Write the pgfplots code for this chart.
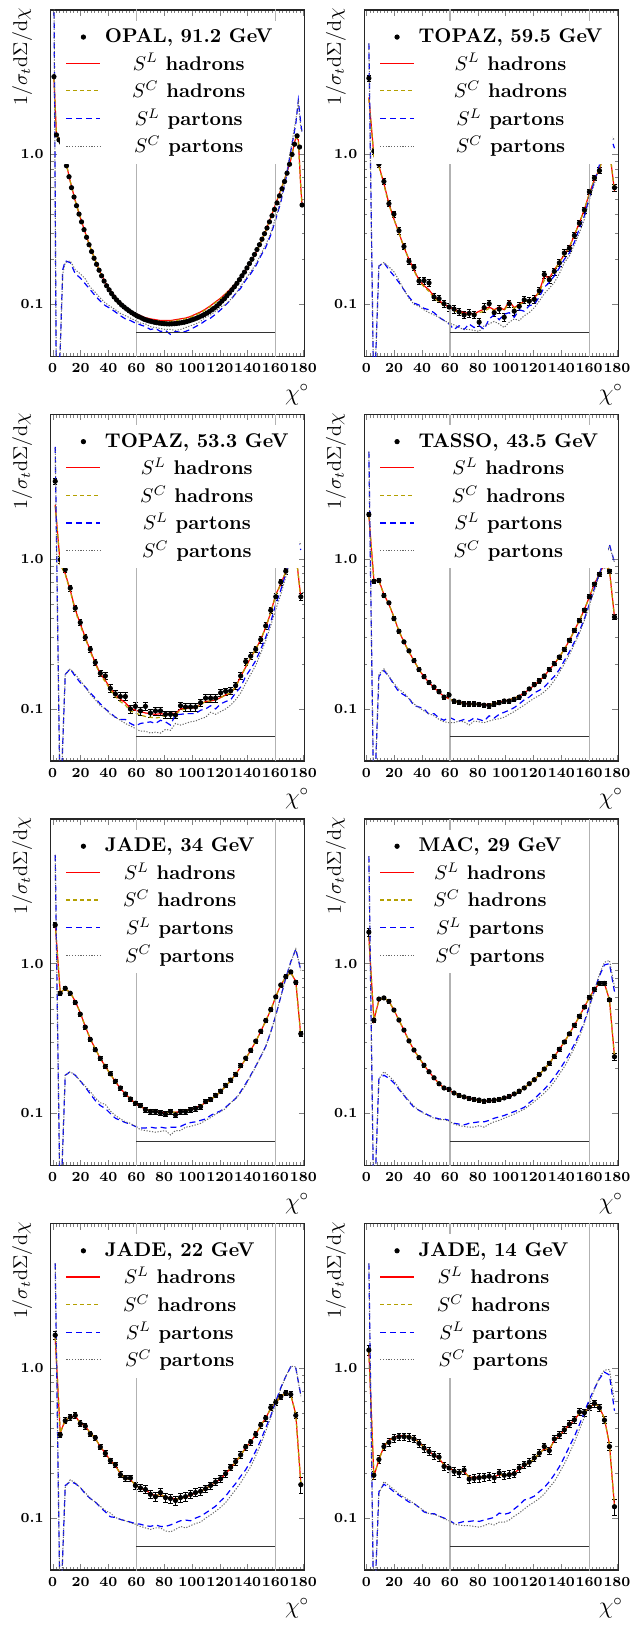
\documentclass[border=0pt]{standalone}
\usepackage{pgfplots}
\usepackage{pgfplotstable}
\pgfplotsset{compat=1.18}

\definecolor{olivec}{RGB}{180,160,0}

\pgfplotstableread{
x y
0.9 3.3
2.7 1.35
4.5 1.25
6.3 1.2
8.1 1.0
9.9 0.84
11.7 0.71
13.5 0.60
15.3 0.52
17.1 0.455
18.9 0.40
20.7 0.355
22.5 0.315
24.3 0.28
26.1 0.25
27.9 0.225
29.7 0.203
31.5 0.185
33.3 0.169
35.1 0.155
36.9 0.143
38.7 0.133
40.5 0.125
42.3 0.118
44.1 0.112
45.9 0.107
47.7 0.103
49.5 0.099
51.3 0.096
53.1 0.093
54.9 0.0905
56.7 0.088
58.5 0.086
60.3 0.084
62.1 0.0825
63.9 0.081
65.7 0.0795
67.5 0.0785
69.3 0.0775
71.1 0.0767
72.9 0.076
74.7 0.0755
76.5 0.075
78.3 0.0746
80.1 0.0743
81.9 0.0741
83.7 0.074
85.5 0.0741
87.3 0.0743
89.1 0.0746
90.9 0.075
92.7 0.0755
94.5 0.076
96.3 0.0768
98.1 0.0777
99.9 0.0787
101.7 0.0798
103.5 0.081
105.3 0.0823
107.1 0.0838
108.9 0.0855
110.7 0.0874
112.5 0.0895
114.3 0.092
116.1 0.0945
117.9 0.0975
119.7 0.101
121.5 0.105
123.3 0.109
125.1 0.114
126.9 0.119
128.7 0.125
130.5 0.131
132.3 0.138
134.1 0.146
135.9 0.155
137.7 0.164
139.5 0.175
141.3 0.187
143.1 0.2
144.9 0.215
146.7 0.232
148.5 0.25
150.3 0.272
152.1 0.296
153.9 0.323
155.7 0.355
157.5 0.39
159.3 0.43
161.1 0.475
162.9 0.53
164.7 0.59
166.5 0.66
168.3 0.75
170.1 0.86
171.9 1.0
173.7 1.17
175.5 1.33
177.3 1.12
179.1 0.46
}\OPALd

\pgfplotstableread{
x SLh SCh SLp SCp
0.9 3.2 3.2 12 12
2.7 1.35 1.35 0.02 0.02
5.4 1.22 1.22 0.05 0.05
7.2 1.08 1.08 0.17 0.16
9 0.93 0.93 0.195 0.19
12.6 0.66 0.66 0.19 0.195
16.2 0.49 0.49 0.16 0.17
19.8 0.38 0.38 0.15 0.16
23.4 0.30 0.30 0.137 0.148
27 0.24 0.24 0.125 0.13
30.6 0.196 0.196 0.114 0.12
34.2 0.163 0.162 0.105 0.11
37.8 0.140 0.139 0.098 0.102
41.4 0.124 0.123 0.094 0.097
45 0.112 0.111 0.089 0.092
48.6 0.103 0.102 0.084 0.087
52.2 0.096 0.095 0.080 0.084
55.8 0.091 0.090 0.078 0.081
59.4 0.087 0.086 0.075 0.078
63 0.084 0.083 0.073 0.075
66.6 0.0815 0.080 0.071 0.074
70.2 0.080 0.079 0.068 0.071
73.8 0.079 0.078 0.069 0.070
77.4 0.078 0.077 0.066 0.069
81 0.078 0.077 0.067 0.068
84.6 0.078 0.077 0.063 0.068
88.2 0.079 0.078 0.066 0.067
91.8 0.080 0.079 0.065 0.068
95.4 0.081 0.080 0.066 0.070
99 0.083 0.082 0.068 0.072
102.6 0.086 0.085 0.071 0.074
106.2 0.089 0.088 0.074 0.077
109.8 0.093 0.092 0.078 0.082
113.4 0.098 0.097 0.081 0.085
117 0.104 0.103 0.086 0.090
120.6 0.110 0.109 0.092 0.096
124.2 0.118 0.117 0.099 0.100
127.8 0.127 0.126 0.107 0.108
131.4 0.138 0.137 0.118 0.118
135 0.151 0.150 0.128 0.132
138.6 0.168 0.167 0.145 0.148
142.2 0.19 0.189 0.16 0.165
145.8 0.22 0.218 0.18 0.185
149.4 0.26 0.258 0.21 0.215
153 0.31 0.308 0.24 0.25
156.6 0.38 0.378 0.29 0.30
160.2 0.47 0.468 0.37 0.38
163.8 0.58 0.578 0.48 0.49
167.4 0.72 0.72 0.68 0.70
171 0.92 0.92 1.05 1.08
174.6 1.30 1.30 1.6 1.7
176.4 1.25 1.25 2.3 2.2
178.2 0.60 0.60 1.6 1.5
179.1 0.46 0.46 1.4 1.4
}\OPALc

\pgfplotstableread{
x d e SLh SCh SLp SCp
1.8 3.22 0.15 2.4 2.35 5.5 5.5
5.4 1.05 0.05 0.98 0.97 0.02 0.02
9 0.86 0.04 0.84 0.83 0.18 0.18
12.6 0.66 0.03 0.64 0.63 0.19 0.19
16.2 0.47 0.02 0.47 0.46 0.17 0.178
19.8 0.40 0.02 0.37 0.37 0.155 0.165
23.4 0.31 0.015 0.30 0.30 0.14 0.145
27 0.243 0.012 0.24 0.24 0.125 0.125
30.6 0.194 0.01 0.20 0.198 0.112 0.11
34.2 0.177 0.009 0.17 0.168 0.102 0.10
37.8 0.143 0.008 0.145 0.143 0.099 0.097
41.4 0.144 0.008 0.133 0.131 0.094 0.092
45 0.139 0.008 0.125 0.122 0.092 0.088
48.6 0.112 0.006 0.113 0.110 0.088 0.085
52.2 0.109 0.006 0.106 0.104 0.082 0.082
55.8 0.101 0.006 0.100 0.098 0.078 0.078
59.4 0.096 0.006 0.096 0.094 0.074 0.075
63 0.093 0.006 0.093 0.091 0.068 0.073
66.6 0.089 0.005 0.090 0.088 0.072 0.070
70.2 0.085 0.005 0.088 0.086 0.068 0.068
73.8 0.087 0.005 0.087 0.085 0.074 0.068
77.4 0.085 0.005 0.086 0.085 0.070 0.067
81 0.076 0.005 0.090 0.088 0.072 0.066
84.6 0.095 0.006 0.093 0.090 0.068 0.072
88.2 0.101 0.006 0.096 0.094 0.080 0.074
91.8 0.088 0.005 0.092 0.091 0.085 0.077
95.4 0.093 0.006 0.096 0.094 0.079 0.074
99 0.082 0.005 0.092 0.091 0.086 0.070
102.6 0.101 0.006 0.105 0.102 0.088 0.076
106.2 0.090 0.005 0.095 0.094 0.082 0.080
109.8 0.097 0.006 0.100 0.099 0.092 0.078
113.4 0.107 0.006 0.105 0.104 0.090 0.084
117 0.105 0.006 0.106 0.106 0.098 0.088
120.6 0.108 0.006 0.110 0.110 0.100 0.095
124.2 0.123 0.007 0.122 0.120 0.112 0.105
127.8 0.158 0.009 0.155 0.145 0.13 0.118
131.4 0.146 0.008 0.150 0.148 0.14 0.128
135 0.166 0.009 0.170 0.168 0.155 0.14
138.6 0.189 0.01 0.19 0.19 0.175 0.16
142.2 0.220 0.011 0.215 0.215 0.20 0.19
145.8 0.237 0.012 0.24 0.24 0.22 0.21
149.4 0.288 0.014 0.29 0.29 0.26 0.25
153 0.348 0.017 0.35 0.35 0.32 0.30
156.6 0.426 0.02 0.43 0.43 0.39 0.37
160.2 0.563 0.025 0.55 0.55 0.52 0.50
163.8 0.697 0.03 0.68 0.68 0.66 0.64
167.4 0.78 0.035 0.80 0.80 0.85 0.82
171 1.06 0.05 1.02 1.02 1.15 1.1
174.6 1.13 0.05 1.08 1.08 1.38 1.35
178.2 0.60 0.03 0.57 0.57 1.1 1.25
}\TOPAZa

\pgfplotstableread{
x d e SLh SCh SLp SCp
1.8 3.3 0.15 2.3 2.25 5.6 5.5
5.4 0.99 0.05 0.92 0.92 0.02 0.02
9 0.85 0.04 0.80 0.79 0.17 0.17
12.6 0.64 0.03 0.62 0.61 0.185 0.185
16.2 0.47 0.02 0.46 0.45 0.165 0.17
19.8 0.377 0.018 0.37 0.36 0.15 0.155
23.4 0.30 0.015 0.30 0.295 0.14 0.14
27 0.25 0.012 0.245 0.24 0.128 0.125
30.6 0.204 0.01 0.203 0.20 0.118 0.115
34.2 0.173 0.009 0.172 0.168 0.108 0.105
37.8 0.166 0.009 0.155 0.152 0.100 0.100
41.4 0.137 0.008 0.137 0.134 0.094 0.092
45 0.126 0.007 0.125 0.121 0.088 0.088
48.6 0.121 0.007 0.116 0.112 0.085 0.084
52.2 0.121 0.007 0.110 0.106 0.085 0.080
55.8 0.100 0.006 0.101 0.097 0.080 0.077
59.4 0.104 0.006 0.098 0.094 0.077 0.074
63 0.097 0.006 0.096 0.091 0.080 0.071
66.6 0.104 0.006 0.094 0.089 0.081 0.071
70.2 0.094 0.006 0.093 0.088 0.082 0.069
73.8 0.097 0.006 0.092 0.087 0.080 0.070
77.4 0.097 0.006 0.093 0.088 0.084 0.069
81 0.092 0.005 0.092 0.090 0.082 0.073
84.6 0.092 0.005 0.094 0.091 0.078 0.072
88.2 0.091 0.005 0.093 0.092 0.092 0.080
91.8 0.105 0.006 0.100 0.098 0.092 0.078
95.4 0.103 0.006 0.101 0.100 0.093 0.080
99 0.103 0.006 0.101 0.101 0.093 0.082
102.6 0.103 0.006 0.102 0.102 0.093 0.083
106.2 0.110 0.006 0.108 0.107 0.098 0.086
109.8 0.118 0.007 0.112 0.112 0.100 0.088
113.4 0.118 0.007 0.113 0.113 0.105 0.095
117 0.118 0.007 0.115 0.115 0.100 0.092
120.6 0.128 0.007 0.119 0.119 0.108 0.096
124.2 0.131 0.007 0.124 0.124 0.112 0.100
127.8 0.132 0.007 0.128 0.128 0.115 0.106
131.4 0.143 0.008 0.14 0.14 0.128 0.115
135 0.166 0.009 0.165 0.163 0.14 0.128
138.6 0.207 0.011 0.19 0.19 0.165 0.148
142.2 0.225 0.012 0.22 0.22 0.185 0.17
145.8 0.25 0.013 0.25 0.25 0.21 0.195
149.4 0.29 0.015 0.29 0.29 0.25 0.235
153 0.358 0.018 0.35 0.35 0.30 0.285
156.6 0.455 0.022 0.44 0.44 0.38 0.36
160.2 0.56 0.027 0.58 0.57 0.50 0.46
163.8 0.70 0.033 0.68 0.68 0.62 0.58
167.4 0.83 0.04 0.82 0.82 0.80 0.76
171 1.04 0.05 1.0 1.0 1.05 1.0
174.6 1.12 0.05 1.1 1.1 1.4 1.38
178.2 0.56 0.03 0.55 0.55 1.15 1.25
}\TOPAZb

\pgfplotstableread{
x d e SLh SCh SLp SCp
1.8 1.98 0.06 1.95 1.93 5.2 5.2
5.4 0.71 0.02 0.72 0.72 0.02 0.02
9 0.72 0.02 0.72 0.71 0.165 0.17
12.6 0.57 0.017 0.58 0.58 0.18 0.185
16.2 0.51 0.015 0.50 0.50 0.165 0.165
19.8 0.40 0.012 0.41 0.41 0.145 0.148
23.4 0.33 0.01 0.33 0.33 0.13 0.135
27 0.28 0.008 0.28 0.28 0.124 0.128
30.6 0.244 0.007 0.24 0.24 0.118 0.117
34.2 0.21 0.006 0.21 0.21 0.105 0.108
37.8 0.183 0.005 0.183 0.183 0.103 0.102
41.4 0.164 0.005 0.164 0.164 0.100 0.097
45 0.15 0.0045 0.15 0.15 0.092 0.093
48.6 0.14 0.004 0.139 0.139 0.093 0.090
52.2 0.13 0.004 0.129 0.129 0.087 0.085
55.8 0.12 0.004 0.121 0.121 0.084 0.082
59.4 0.124 0.004 0.117 0.117 0.088 0.081
63 0.113 0.0035 0.113 0.113 0.085 0.081
66.6 0.111 0.0035 0.111 0.110 0.083 0.083
70.2 0.108 0.0035 0.109 0.108 0.085 0.082
73.8 0.108 0.0035 0.108 0.107 0.083 0.078
77.4 0.108 0.0035 0.108 0.107 0.087 0.083
81 0.107 0.0035 0.107 0.107 0.085 0.082
84.6 0.106 0.0035 0.107 0.107 0.083 0.081
88.2 0.105 0.0035 0.107 0.107 0.090 0.083
91.8 0.108 0.0035 0.108 0.108 0.087 0.085
95.4 0.110 0.0035 0.111 0.111 0.092 0.086
99 0.113 0.0035 0.113 0.113 0.095 0.088
102.6 0.113 0.0035 0.115 0.115 0.098 0.092
106.2 0.116 0.0035 0.118 0.118 0.102 0.096
109.8 0.12 0.004 0.122 0.122 0.108 0.101
113.4 0.127 0.004 0.128 0.128 0.115 0.106
117 0.136 0.004 0.135 0.135 0.12 0.112
120.6 0.145 0.0045 0.144 0.144 0.128 0.118
124.2 0.154 0.005 0.154 0.154 0.133 0.123
127.8 0.166 0.005 0.166 0.166 0.14 0.13
131.4 0.183 0.0055 0.182 0.182 0.152 0.14
135 0.20 0.006 0.20 0.20 0.165 0.155
138.6 0.222 0.007 0.222 0.222 0.183 0.175
142.2 0.249 0.0075 0.25 0.25 0.21 0.20
145.8 0.287 0.009 0.286 0.286 0.24 0.23
149.4 0.334 0.01 0.333 0.333 0.28 0.27
153 0.388 0.012 0.39 0.39 0.33 0.32
156.6 0.456 0.014 0.46 0.46 0.40 0.39
160.2 0.56 0.017 0.56 0.56 0.50 0.49
163.8 0.68 0.02 0.68 0.68 0.64 0.62
167.4 0.79 0.024 0.80 0.80 0.80 0.78
171 0.90 0.027 0.92 0.92 1.0 0.98
174.6 0.83 0.025 0.84 0.84 1.25 1.22
178.2 0.41 0.015 0.41 0.41 0.95 0.95
}\TASSO

\pgfplotstableread{
x d e SLh SCh SLp SCp
1.8 1.81 0.06 1.85 1.83 5.3 5.3
5.4 0.634 0.02 0.64 0.64 0.02 0.02
9 0.684 0.02 0.68 0.68 0.18 0.18
12.6 0.634 0.02 0.64 0.64 0.19 0.19
16.2 0.55 0.016 0.56 0.56 0.18 0.18
19.8 0.46 0.014 0.47 0.47 0.165 0.165
23.4 0.377 0.011 0.38 0.38 0.15 0.152
27 0.312 0.009 0.315 0.315 0.135 0.14
30.6 0.266 0.008 0.27 0.27 0.122 0.127
34.2 0.233 0.007 0.233 0.233 0.113 0.118
37.8 0.206 0.006 0.206 0.206 0.108 0.115
41.4 0.184 0.0055 0.183 0.183 0.100 0.104
45 0.164 0.005 0.163 0.163 0.093 0.097
48.6 0.148 0.0045 0.147 0.147 0.090 0.092
52.2 0.135 0.004 0.135 0.135 0.087 0.088
55.8 0.125 0.004 0.125 0.125 0.085 0.086
59.4 0.117 0.004 0.117 0.117 0.082 0.082
63 0.113 0.004 0.111 0.111 0.080 0.078
66.6 0.106 0.004 0.107 0.107 0.080 0.077
70.2 0.103 0.004 0.104 0.104 0.081 0.076
73.8 0.103 0.004 0.103 0.103 0.080 0.075
77.4 0.101 0.004 0.102 0.102 0.081 0.076
81 0.099 0.004 0.101 0.101 0.080 0.077
84.6 0.103 0.004 0.102 0.102 0.081 0.072
88.2 0.098 0.004 0.102 0.102 0.081 0.077
91.8 0.103 0.004 0.103 0.103 0.082 0.077
95.4 0.103 0.004 0.104 0.104 0.085 0.081
99 0.106 0.004 0.106 0.106 0.087 0.082
102.6 0.108 0.004 0.109 0.109 0.088 0.084
106.2 0.111 0.004 0.113 0.113 0.090 0.086
109.8 0.12 0.004 0.118 0.118 0.092 0.090
113.4 0.124 0.004 0.124 0.124 0.097 0.094
117 0.132 0.004 0.131 0.131 0.101 0.099
120.6 0.141 0.0045 0.14 0.14 0.104 0.103
124.2 0.154 0.005 0.152 0.152 0.11 0.108
127.8 0.167 0.005 0.166 0.166 0.118 0.118
131.4 0.182 0.0055 0.182 0.182 0.126 0.125
135 0.209 0.006 0.205 0.205 0.14 0.138
138.6 0.234 0.007 0.232 0.232 0.158 0.155
142.2 0.264 0.008 0.264 0.264 0.18 0.178
145.8 0.304 0.009 0.302 0.302 0.207 0.205
149.4 0.354 0.011 0.352 0.352 0.24 0.24
153 0.417 0.013 0.415 0.415 0.28 0.28
156.6 0.493 0.015 0.49 0.49 0.35 0.35
160.2 0.60 0.018 0.60 0.60 0.45 0.45
163.8 0.72 0.022 0.72 0.72 0.60 0.60
167.4 0.817 0.025 0.81 0.81 0.80 0.80
171 0.88 0.026 0.87 0.87 1.03 1.02
174.6 0.75 0.023 0.76 0.76 1.25 1.25
178.2 0.34 0.015 0.33 0.33 0.9 0.9
}\JADEa

\pgfplotstableread{
x d e SLh SCh SLp SCp
1.8 1.62 0.1 1.5 1.5 5.2 5.2
5.4 0.42 0.012 0.42 0.42 0.02 0.02
9 0.58 0.015 0.57 0.57 0.17 0.17
12.6 0.59 0.015 0.59 0.59 0.18 0.19
16.2 0.56 0.015 0.56 0.56 0.172 0.178
19.8 0.49 0.013 0.49 0.49 0.16 0.165
23.4 0.42 0.011 0.42 0.42 0.145 0.148
27 0.36 0.009 0.36 0.36 0.132 0.133
30.6 0.305 0.008 0.305 0.305 0.12 0.122
34.2 0.265 0.007 0.265 0.265 0.11 0.112
37.8 0.236 0.006 0.236 0.236 0.105 0.105
41.4 0.21 0.0055 0.21 0.21 0.101 0.100
45 0.19 0.005 0.19 0.19 0.097 0.096
48.6 0.173 0.0045 0.173 0.173 0.094 0.093
52.2 0.158 0.004 0.158 0.158 0.092 0.091
55.8 0.148 0.004 0.148 0.148 0.092 0.091
59.4 0.145 0.004 0.143 0.143 0.09 0.089
63 0.137 0.0035 0.137 0.137 0.086 0.085
66.6 0.132 0.0035 0.132 0.132 0.085 0.083
70.2 0.129 0.0035 0.129 0.129 0.084 0.082
73.8 0.126 0.0035 0.126 0.126 0.086 0.081
77.4 0.124 0.0035 0.124 0.124 0.087 0.081
81 0.123 0.0035 0.122 0.122 0.088 0.083
84.6 0.121 0.0035 0.121 0.121 0.088 0.081
88.2 0.122 0.0035 0.121 0.121 0.090 0.085
91.8 0.123 0.0035 0.123 0.123 0.093 0.088
95.4 0.124 0.0035 0.125 0.125 0.095 0.090
99 0.127 0.0035 0.127 0.127 0.097 0.093
102.6 0.13 0.0035 0.13 0.13 0.10 0.096
106.2 0.135 0.0035 0.135 0.135 0.103 0.099
109.8 0.141 0.004 0.141 0.141 0.106 0.103
113.4 0.148 0.004 0.148 0.148 0.11 0.107
117 0.158 0.004 0.158 0.158 0.118 0.113
120.6 0.168 0.0045 0.168 0.168 0.125 0.12
124.2 0.182 0.005 0.182 0.182 0.135 0.128
127.8 0.198 0.005 0.198 0.198 0.145 0.137
131.4 0.216 0.0055 0.216 0.216 0.158 0.148
135 0.24 0.006 0.24 0.24 0.175 0.163
138.6 0.268 0.007 0.268 0.268 0.195 0.183
142.2 0.30 0.008 0.30 0.30 0.22 0.205
145.8 0.34 0.009 0.34 0.34 0.25 0.235
149.4 0.388 0.01 0.388 0.388 0.29 0.275
153 0.445 0.011 0.445 0.445 0.34 0.325
156.6 0.513 0.013 0.513 0.513 0.41 0.40
160.2 0.594 0.015 0.594 0.594 0.52 0.51
163.8 0.674 0.017 0.674 0.674 0.66 0.66
167.4 0.738 0.019 0.738 0.738 0.83 0.85
171 0.738 0.019 0.738 0.738 0.98 1.02
174.6 0.573 0.015 0.573 0.573 1.0 1.05
178.2 0.239 0.012 0.24 0.24 0.65 0.70
}\MAC

\pgfplotstableread{
x d e SLh SCh SLp SCp
1.8 1.66 0.1 1.6 1.6 5.0 5.0
5.4 0.36 0.015 0.37 0.37 0.02 0.02
9 0.446 0.02 0.45 0.45 0.165 0.16
12.6 0.47 0.02 0.47 0.47 0.175 0.18
16.2 0.484 0.02 0.48 0.48 0.17 0.172
19.8 0.427 0.018 0.43 0.43 0.16 0.16
23.4 0.41 0.017 0.41 0.41 0.145 0.148
27 0.365 0.015 0.37 0.37 0.135 0.135
30.6 0.344 0.014 0.34 0.34 0.128 0.128
34.2 0.298 0.012 0.30 0.30 0.118 0.12
37.8 0.27 0.011 0.27 0.27 0.110 0.112
41.4 0.242 0.01 0.243 0.243 0.102 0.108
45 0.227 0.01 0.224 0.224 0.101 0.101
48.6 0.195 0.009 0.198 0.198 0.098 0.098
52.2 0.185 0.009 0.184 0.184 0.096 0.096
55.8 0.185 0.009 0.181 0.181 0.094 0.093
59.4 0.165 0.009 0.166 0.166 0.092 0.091
63 0.159 0.009 0.158 0.158 0.091 0.088
66.6 0.155 0.009 0.154 0.154 0.089 0.086
70.2 0.144 0.009 0.146 0.146 0.088 0.084
73.8 0.139 0.009 0.141 0.141 0.090 0.086
77.4 0.148 0.009 0.144 0.144 0.088 0.086
81 0.137 0.009 0.138 0.138 0.088 0.082
84.6 0.135 0.009 0.137 0.137 0.090 0.081
88.2 0.131 0.009 0.134 0.134 0.093 0.084
91.8 0.137 0.009 0.135 0.135 0.096 0.088
95.4 0.139 0.009 0.138 0.138 0.097 0.086
99 0.144 0.009 0.142 0.142 0.096 0.089
102.6 0.148 0.009 0.147 0.147 0.100 0.092
106.2 0.151 0.009 0.151 0.151 0.103 0.094
109.8 0.157 0.009 0.157 0.157 0.108 0.100
113.4 0.165 0.009 0.165 0.165 0.114 0.105
117 0.174 0.009 0.173 0.173 0.12 0.111
120.6 0.183 0.009 0.183 0.183 0.13 0.118
124.2 0.198 0.01 0.197 0.197 0.14 0.127
127.8 0.218 0.011 0.216 0.216 0.155 0.14
131.4 0.238 0.012 0.236 0.236 0.17 0.155
135 0.264 0.013 0.262 0.262 0.19 0.172
138.6 0.298 0.014 0.295 0.295 0.21 0.195
142.2 0.322 0.015 0.322 0.322 0.24 0.22
145.8 0.362 0.017 0.36 0.36 0.28 0.26
149.4 0.418 0.019 0.415 0.415 0.33 0.31
153 0.465 0.021 0.465 0.465 0.40 0.38
156.6 0.546 0.024 0.54 0.54 0.48 0.47
160.2 0.592 0.026 0.59 0.59 0.60 0.58
163.8 0.645 0.028 0.645 0.645 0.74 0.73
167.4 0.685 0.03 0.685 0.685 0.88 0.88
171 0.668 0.03 0.665 0.665 1.02 1.03
174.6 0.484 0.022 0.49 0.49 1.0 1.02
178.2 0.167 0.02 0.17 0.17 0.66 0.65
}\JADEb

\pgfplotstableread{
x d e SLh SCh SLp SCp
1.8 1.32 0.1 1.3 1.3 5.0 5.0
5.4 0.193 0.012 0.19 0.19 0.02 0.02
9 0.246 0.014 0.245 0.245 0.15 0.145
12.6 0.30 0.017 0.30 0.30 0.168 0.175
16.2 0.32 0.018 0.33 0.33 0.16 0.165
19.8 0.34 0.019 0.345 0.345 0.15 0.155
23.4 0.349 0.019 0.355 0.355 0.142 0.145
27 0.349 0.019 0.355 0.355 0.135 0.138
30.6 0.346 0.019 0.35 0.35 0.128 0.132
34.2 0.337 0.019 0.34 0.34 0.125 0.125
37.8 0.315 0.018 0.32 0.32 0.118 0.118
41.4 0.293 0.017 0.295 0.295 0.11 0.112
45 0.278 0.016 0.278 0.278 0.107 0.107
48.6 0.262 0.015 0.263 0.263 0.107 0.106
52.2 0.255 0.015 0.25 0.25 0.103 0.103
55.8 0.221 0.013 0.226 0.226 0.100 0.099
59.4 0.216 0.013 0.217 0.217 0.097 0.096
63 0.205 0.012 0.206 0.206 0.092 0.091
66.6 0.20 0.012 0.203 0.203 0.093 0.090
70.2 0.209 0.012 0.205 0.205 0.095 0.089
73.8 0.182 0.012 0.187 0.187 0.095 0.089
77.4 0.184 0.012 0.187 0.187 0.096 0.088
81 0.186 0.012 0.188 0.188 0.095 0.087
84.6 0.188 0.012 0.188 0.188 0.097 0.089
88.2 0.19 0.012 0.19 0.19 0.099 0.092
91.8 0.186 0.012 0.188 0.188 0.101 0.090
95.4 0.20 0.012 0.195 0.195 0.108 0.094
99 0.193 0.012 0.193 0.193 0.106 0.094
102.6 0.195 0.012 0.196 0.196 0.108 0.097
106.2 0.198 0.012 0.20 0.20 0.115 0.103
109.8 0.216 0.013 0.212 0.212 0.122 0.108
113.4 0.227 0.013 0.223 0.223 0.132 0.115
117 0.236 0.014 0.234 0.234 0.135 0.122
120.6 0.252 0.014 0.25 0.25 0.14 0.128
124.2 0.271 0.015 0.27 0.27 0.15 0.135
127.8 0.30 0.017 0.29 0.29 0.16 0.145
131.4 0.282 0.016 0.287 0.287 0.175 0.16
135 0.337 0.019 0.33 0.33 0.195 0.175
138.6 0.358 0.02 0.355 0.355 0.22 0.20
142.2 0.388 0.021 0.385 0.385 0.255 0.23
145.8 0.423 0.023 0.42 0.42 0.30 0.27
149.4 0.452 0.025 0.45 0.45 0.35 0.32
153 0.51 0.028 0.50 0.50 0.42 0.39
156.6 0.505 0.028 0.51 0.51 0.51 0.47
160.2 0.55 0.03 0.545 0.545 0.62 0.58
163.8 0.582 0.032 0.58 0.58 0.73 0.72
167.4 0.545 0.03 0.55 0.55 0.85 0.87
171 0.45 0.025 0.46 0.46 0.94 0.97
174.6 0.30 0.018 0.31 0.31 0.90 0.98
178.2 0.119 0.015 0.12 0.12 0.52 0.6
}\JADEc

\pgfplotsset{
  every axis/.append style={
    scale only axis, width=128pt, height=174.5pt,
    ymode=log, xmin=-1.5, xmax=181, ymin=0.045, ymax=9.2,
    xtick={0,20,40,60,80,100,120,140,160,180},
    xticklabels={0,20,40,60,80,100,120,140,160,180},
    minor x tick num=7,
    ytick={0.1,1}, yticklabels={0.1,1.0},
    tick align=inside,
    major tick length=3pt, minor tick length=1.6pt,
    axis line style={black!85, line width=0.6pt},
    tick label style={font=\scriptsize\bfseries},
    ylabel={$1/\sigma_t\mathrm{d}\Sigma/\mathrm{d}\chi$},
    xlabel={$\chi^\circ$},
    ylabel style={at={(axis description cs:-0.045,1.025)}, anchor=south east},
    xlabel style={at={(axis description cs:1.045,-0.06)}, anchor=north east, font=\large},
    legend style={at={(0.035,0.97)}, anchor=north west, draw=none, fill=white, font=\bfseries},
  },
}

\tikzset{
  slh/.style={red, line width=0.6pt},
  sch/.style={olivec, line width=0.6pt, dash pattern=on 2pt off 1.5pt},
  slp/.style={blue, line width=0.6pt, dash pattern=on 3pt off 2pt},
  scp/.style={black!60, line width=0.5pt, dash pattern=on 0.6pt off 0.8pt},
}

\newcommand{\extras}{%
  \addplot[gray!60, line width=0.6pt, forget plot] coordinates {(60,0.04) (60,10)};
  \addplot[gray!60, line width=0.6pt, forget plot] coordinates {(160,0.04) (160,10)};
  \addplot[black!80, line width=0.5pt, forget plot] coordinates {(60,0.065) (160,0.065)};
}

\newcommand{\panel}[3]{%
  \begin{axis}[at={#2}]
    \addplot[only marks, mark=*, mark size=1.1pt, black,
      error bars/.cd, y dir=both, y explicit]
      table[x=x, y=d, y error=e] {#1};
    \addlegendentry{#3}
    \addplot[slh, mark=none] table[x=x, y=SLh] {#1};
    \addlegendentry{$S^L$ hadrons}
    \addplot[sch, mark=none] table[x=x, y=SCh] {#1};
    \addlegendentry{$S^C$ hadrons}
    \addplot[slp, mark=none] table[x=x, y=SLp] {#1};
    \addlegendentry{$S^L$ partons}
    \addplot[scp, mark=none] table[x=x, y=SCp] {#1};
    \addlegendentry{$S^C$ partons}
    \extras
  \end{axis}
}

\begin{document}
\begin{tikzpicture}
\path (-25.5pt,179.5pt) rectangle (295pt,-633pt);

\begin{axis}[at={(0pt,0pt)}]
  \addplot[only marks, mark=*, mark size=1.1pt, black] table[x=x, y=y] {\OPALd};
  \addlegendentry{OPAL{,} 91.2 GeV}
  \addplot[slh, mark=none] table[x=x, y=SLh] {\OPALc};
  \addlegendentry{$S^L$ hadrons}
  \addplot[sch, mark=none] table[x=x, y=SCh] {\OPALc};
  \addlegendentry{$S^C$ hadrons}
  \addplot[slp, mark=none] table[x=x, y=SLp] {\OPALc};
  \addlegendentry{$S^L$ partons}
  \addplot[scp, mark=none] table[x=x, y=SCp] {\OPALc};
  \addlegendentry{$S^C$ partons}
  \extras
\end{axis}

\panel{\TOPAZa}{(158pt,0pt)}{TOPAZ{,} 59.5 GeV}
\panel{\TOPAZb}{(0pt,-203.8pt)}{TOPAZ{,} 53.3 GeV}
\panel{\TASSO}{(158pt,-203.8pt)}{TASSO{,} 43.5 GeV}
\panel{\JADEa}{(0pt,-407.6pt)}{JADE{,} 34 GeV}
\panel{\MAC}{(158pt,-407.6pt)}{MAC{,} 29 GeV}
\panel{\JADEb}{(0pt,-611.4pt)}{JADE{,} 22 GeV}
\panel{\JADEc}{(158pt,-611.4pt)}{JADE{,} 14 GeV}
\end{tikzpicture}
\end{document}
